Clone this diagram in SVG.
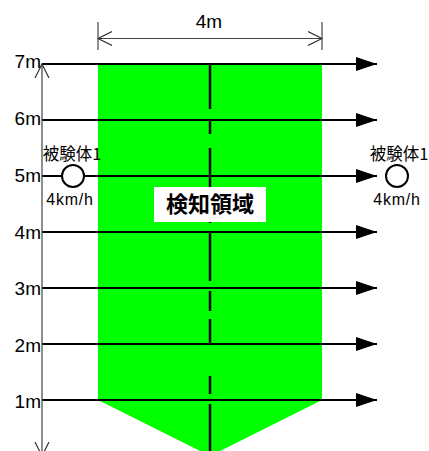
<svg xmlns="http://www.w3.org/2000/svg" width="429" height="451" viewBox="0 0 429 451">
<style>
.lbl{font-family:"Liberation Sans",Arial,sans-serif;font-size:19px;fill:#000}
.sub{font-family:"Liberation Sans","Noto Sans CJK JP",sans-serif;font-size:16px;letter-spacing:0.8px;fill:#000}
.jp{font-family:"Noto Sans CJK JP",sans-serif;font-size:16.5px;fill:#000}
.h{stroke:#000;stroke-width:2;fill:none}
.thin{stroke:#444;stroke-width:1.2;fill:none}
</style>
<defs>
<marker id="ah" markerWidth="22" markerHeight="14" refX="21" refY="7" orient="auto" markerUnits="userSpaceOnUse">
<path d="M0,0 L21,7 L0,14 Z" fill="#000"/>
</marker>
<marker id="oa" markerWidth="16" markerHeight="16" refX="14" refY="8" orient="auto" markerUnits="userSpaceOnUse">
<path d="M0,1 L14,8 L0,15" fill="none" stroke="#333" stroke-width="1.2"/>
</marker>
</defs>
<g id="area">
<polygon points="98,64 322,64 322,400 210,456 98,400" fill="#00ff00"/>
</g>
<g id="connectors">
<path class="h" d="M42,64 H377" marker-end="url(#ah)"/>
<path class="h" d="M42,120 H377" marker-end="url(#ah)"/>
<path class="h" d="M42,176 H377" marker-end="url(#ah)"/>
<path class="h" d="M42,232 H377" marker-end="url(#ah)"/>
<path class="h" d="M42,288 H377" marker-end="url(#ah)"/>
<path class="h" d="M42,344 H377" marker-end="url(#ah)"/>
<path class="h" d="M42,400 H377" marker-end="url(#ah)"/>
<path class="thin" d="M42,260 V64" marker-end="url(#oa)"/>
<path class="thin" d="M42,260 V456" marker-end="url(#oa)"/>
<path class="thin" d="M210,38.5 H98" marker-end="url(#oa)"/>
<path class="thin" d="M210,38.5 H322" marker-end="url(#oa)"/>
<path class="thin" d="M98,22 V50 M322,22 V50"/>
<path stroke="#000" stroke-width="2.5" fill="none" d="M210,64 V109 M210,121 V134 M210,148 V190 M210,220 V223 M210,233 V281 M210,291 V311 M210,319 V345 M210,376 V394 M210,404 V451"/>
</g>
<g id="dim">
<text class="lbl" x="209" y="28" text-anchor="middle">4m</text>
</g>
<g id="labels">
<text class="lbl" x="41" y="68" text-anchor="end">7m</text>
<text class="lbl" x="41" y="125" text-anchor="end">6m</text>
<text class="lbl" x="41" y="182" text-anchor="end">5m</text>
<text class="lbl" x="41" y="239" text-anchor="end">4m</text>
<text class="lbl" x="41" y="295" text-anchor="end">3m</text>
<text class="lbl" x="41" y="352" text-anchor="end">2m</text>
<text class="lbl" x="41" y="408" text-anchor="end">1m</text>
</g>
<g id="subject-left">
<text class="jp" x="72" y="160" text-anchor="middle">被験体1</text>
<circle cx="73" cy="176" r="11" fill="#fff" stroke="#000" stroke-width="2"/>
<text class="sub" x="70" y="205" text-anchor="middle">4km/h</text>
</g>
<g id="subject-right">
<text class="jp" x="399" y="160" text-anchor="middle">被験体1</text>
<circle cx="397" cy="176" r="11" fill="#fff" stroke="#000" stroke-width="2"/>
<text class="sub" x="397" y="205" text-anchor="middle">4km/h</text>
</g>
<g id="detect">
<rect x="154" y="187" width="112" height="35" fill="#fff"/>
<text x="210" y="212" text-anchor="middle" font-family="'Noto Sans CJK JP',sans-serif" font-size="22" font-weight="bold" fill="#000">検知領域</text>
</g>
</svg>
